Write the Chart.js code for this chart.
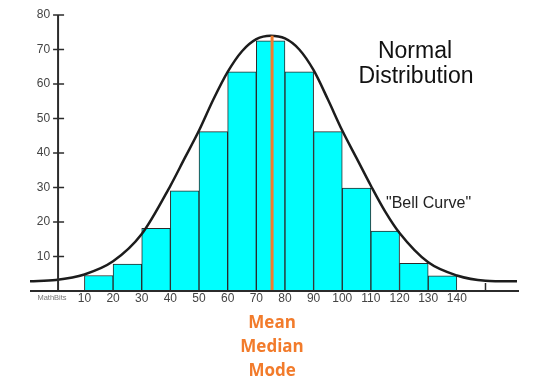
<!DOCTYPE html>
<html>
<head>
<meta charset="utf-8">
<script src="https://cdn.jsdelivr.net/npm/chart.js@4"></script>
<style>
  html, body { margin: 0; padding: 0; background: #fff; }
  #wrap { width: 540px; height: 389px; }
</style>
</head>
<body>
<div id="wrap"><canvas id="chart" width="540" height="389"></canvas></div>
<script>
// histogram bins (lower edge) and heights
const binStarts = [10, 20, 30, 40, 50, 60, 70, 80, 90, 100, 110, 120, 130];
const binHeights = [4.5, 7.8, 18.2, 29, 46.2, 63.5, 72.5, 63.5, 46.2, 29.8, 17.4, 8, 4.4];
const binWidth = 10;

// bell curve
const curveX = [-9, 0, 10, 20, 30, 40, 45, 50, 55, 60, 65, 70, 75, 80, 85, 90, 95, 100, 105, 110, 115, 120, 130, 140, 150, 161];
const curveY = [2.8, 3.2, 4.8, 8.6, 16.5, 30.5, 38.5, 46.5, 55.5, 63.5, 69.5, 73, 74, 73.2, 70, 64, 55.5, 46.5, 38.5, 30.5, 23, 16.8, 8.3, 4.5, 3, 2.8];

// mean / median / mode marker
const meanValue = 75.5;
const meanTop = 74;

const yTicks = [10, 20, 30, 40, 50, 60, 70, 80];
const xTicks = [10, 20, 30, 40, 50, 60, 70, 80, 90, 100, 110, 120, 130, 140];
const xTickMarks = [150];

const barData = binStarts.map((s, i) => ({ x: s + binWidth / 2, y: binHeights[i] }));
const curveData = curveX.map((x, i) => ({ x: x, y: curveY[i] }));
const meanData = [{ x: meanValue, y: 0 }, { x: meanValue, y: meanTop }];

const ORANGE = '#f27b2b';
const AXIS = '#2b2b2b';

const decorPlugin = {
    id: 'decor',
    afterDatasetsDraw(chart) {
        const ctx = chart.ctx;
        const xs = chart.scales.x;
        const ys = chart.scales.y;
        const area = chart.chartArea;
        const y0 = ys.getPixelForValue(0);
        const yAxisX = xs.getPixelForValue(0.8);

        ctx.save();
        ctx.strokeStyle = AXIS;
        ctx.lineWidth = 2;

        // x baseline
        ctx.beginPath();
        ctx.moveTo(area.left, y0);
        ctx.lineTo(area.right + 2, y0);
        ctx.stroke();

        // y axis
        ctx.beginPath();
        ctx.moveTo(yAxisX, ys.getPixelForValue(80));
        ctx.lineTo(yAxisX, y0);
        ctx.stroke();

        // y ticks + labels
        ctx.lineWidth = 1.5;
        ctx.font = '12px "Liberation Sans", Arial, sans-serif';
        ctx.fillStyle = '#444';
        ctx.textAlign = 'right';
        ctx.textBaseline = 'middle';
        yTicks.forEach(v => {
            const py = ys.getPixelForValue(v);
            ctx.beginPath();
            ctx.moveTo(yAxisX - 5, py);
            ctx.lineTo(yAxisX + 6, py);
            ctx.stroke();
            ctx.fillText(String(v), yAxisX - 8, py);
        });

        // x tick marks going up
        xTickMarks.forEach(v => {
            const px = xs.getPixelForValue(v);
            ctx.beginPath();
            ctx.moveTo(px, y0);
            ctx.lineTo(px, y0 - 8);
            ctx.stroke();
        });

        // x labels
        ctx.textAlign = 'center';
        ctx.textBaseline = 'middle';
        xTicks.forEach(v => {
            ctx.fillText(String(v), xs.getPixelForValue(v), y0 + 8);
        });

        ctx.font = '7.5px "Liberation Sans", Arial, sans-serif';
        ctx.fillStyle = '#777';
        ctx.fillText('MathBits', 52, y0 + 7);

        // titles
        ctx.fillStyle = '#111';
        ctx.font = '23px "Liberation Sans", Arial, sans-serif';
        ctx.textBaseline = 'alphabetic';
        ctx.fillText('Normal', 415, 58);
        ctx.fillText('Distribution', 416, 83);

        ctx.font = '16px "Liberation Sans", Arial, sans-serif';
        ctx.textAlign = 'left';
        ctx.fillStyle = '#222';
        ctx.fillText('"Bell Curve"', 386, 208);

        // mean / median / mode labels
        const mx = xs.getPixelForValue(meanValue);
        ctx.fillStyle = ORANGE;
        ctx.textAlign = 'center';
        ctx.font = 'bold 17px "Open Sans", sans-serif';
        ctx.fillText('Mean', mx, 328);
        ctx.fillText('Median', mx, 352);
        ctx.fillText('Mode', mx, 376);
        ctx.restore();
    }
};

new Chart(document.getElementById('chart'), {
    data: {
        datasets: [
            {
                type: 'line',
                data: meanData,
                borderColor: ORANGE,
                borderWidth: 3,
                pointRadius: 0,
                order: 0
            },
            {
                type: 'line',
                data: curveData,
                borderColor: '#1c1c1c',
                borderWidth: 2.5,
                pointRadius: 0,
                cubicInterpolationMode: 'monotone',
                order: 1
            },
            {
                type: 'bar',
                data: barData,
                backgroundColor: '#00ffff',
                borderColor: '#2a2a2a',
                borderWidth: 1,
                barPercentage: 1,
                categoryPercentage: 1,
                order: 2
            }
        ]
    },
    options: {
        responsive: false,
        animation: false,
        layout: { padding: { left: 30, right: 23, top: 15, bottom: 98 } },
        plugins: { legend: { display: false }, tooltip: { enabled: false } },
        scales: {
            x: {
                type: 'linear', min: -9, max: 161, offset: false, display: false,
                // keep tick spacing at the bin width so bars fill their bins
                afterBuildTicks: s => { s.ticks = xTicks.map(v => ({ value: v })); }
            },
            y: { min: 0, max: 80, display: false }
        }
    },
    plugins: [decorPlugin]
});
</script>
</body>
</html>
